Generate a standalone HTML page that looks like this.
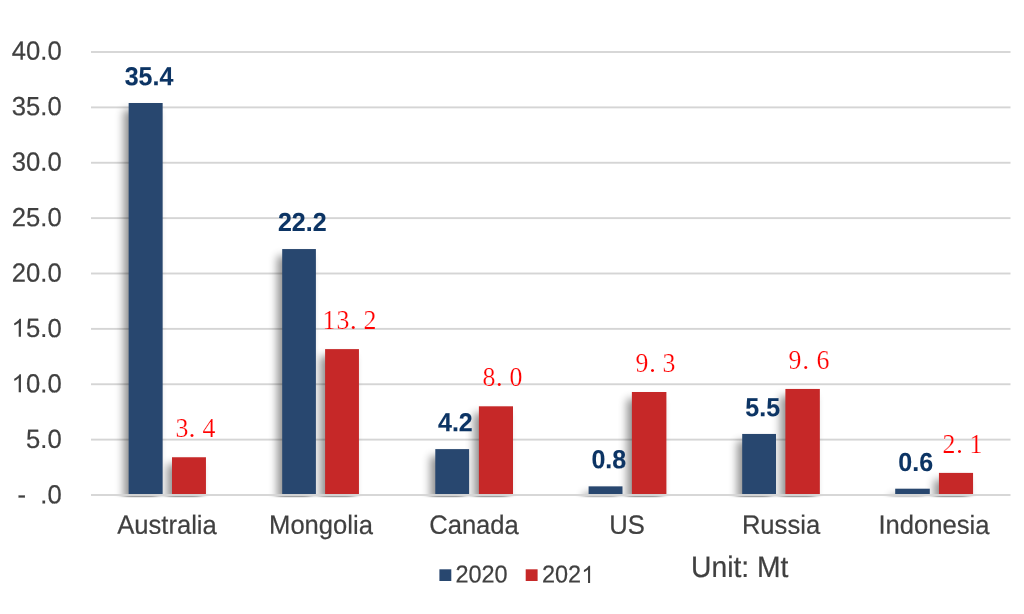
<!DOCTYPE html>
<html><head><meta charset="utf-8"><title>chart</title>
<style>
html,body{margin:0;padding:0;background:#fff;}
body{width:1024px;height:614px;position:relative;overflow:hidden;will-change:transform;font-family:"Liberation Sans",sans-serif;color:#404040;}
svg{position:absolute;left:0;top:0;}
.yl{position:absolute;left:0;width:61.7px;text-align:right;font-size:25.6px;line-height:30px;white-space:pre;transform-origin:100% 23.87px;-webkit-text-stroke:0.2px #404040;}
.cl{position:absolute;top:509px;font-size:25.6px;line-height:30px;text-align:center;white-space:nowrap;transform:translate(-50%,0.85px) scale(1,1.03) rotate(0.04deg);transform-origin:50% 23.87px;-webkit-text-stroke:0.2px #404040;}
.v0{position:absolute;font-weight:bold;font-size:25.3px;line-height:30px;color:#0c3464;-webkit-text-stroke:0.1px #0c3464;white-space:nowrap;transform-origin:0 23.77px;}
.v1{position:absolute;font-family:"Liberation Serif",serif;font-size:27.2px;line-height:30px;color:#ff0000;white-space:nowrap;}
.v1 i{font-style:normal;display:inline-block;width:13.85px;text-align:center;transform:scaleX(0.95);-webkit-text-stroke:0.22px #fff;}
.v1 i.d{text-align:left;transform:none;text-indent:0.4px;font-size:26px;-webkit-text-stroke:0;}
.lg{position:absolute;font-size:23.45px;line-height:30px;white-space:nowrap;top:559px;transform:translateY(0.55px) scale(1,1.045) rotate(0.06deg);transform-origin:0 23px;-webkit-text-stroke:0.2px #404040;}
.t1{color:transparent;-webkit-text-stroke:0 transparent;}
.one{position:absolute;top:0;width:20px;height:30px;fill:#404040;overflow:visible;}
.unit{position:absolute;left:691px;top:550px;font-size:28.3px;line-height:34px;white-space:nowrap;transform:translateY(0px) scale(1,1.045) rotate(0.05deg);transform-origin:0 27px;-webkit-text-stroke:0.2px #404040;}
</style></head><body>

<svg width="1024" height="614" viewBox="0 0 1024 614">
<defs><filter id="sh" x="0" y="0" width="1024" height="614" filterUnits="userSpaceOnUse"><feGaussianBlur in="SourceAlpha" stdDeviation="4.5"/><feOffset dx="-4.6" dy="7"/><feComponentTransfer><feFuncA type="linear" slope="0.43"/></feComponentTransfer></filter>
<clipPath id="cp"><rect x="60" y="0" width="964" height="497.3"/></clipPath></defs>
<rect x="91.0" y="438.675" width="919.5" height="1.9" fill="#d5d5d5"/>
<rect x="91.0" y="383.300" width="919.5" height="1.9" fill="#d5d5d5"/>
<rect x="91.0" y="327.925" width="919.5" height="1.9" fill="#d5d5d5"/>
<rect x="91.0" y="272.550" width="919.5" height="1.9" fill="#d5d5d5"/>
<rect x="91.0" y="217.175" width="919.5" height="1.9" fill="#d5d5d5"/>
<rect x="91.0" y="161.800" width="919.5" height="1.9" fill="#d5d5d5"/>
<rect x="91.0" y="106.425" width="919.5" height="1.9" fill="#d5d5d5"/>
<rect x="91.0" y="51.050" width="919.5" height="1.9" fill="#d5d5d5"/>
<g clip-path="url(#cp)">
<rect x="128.65" y="103.00" width="34.00" height="391.50" fill="#000" filter="url(#sh)"/>
<rect x="172.00" y="457.25" width="33.95" height="37.25" fill="#000" filter="url(#sh)"/>
<rect x="282.20" y="249.05" width="33.70" height="245.45" fill="#000" filter="url(#sh)"/>
<rect x="325.10" y="349.10" width="33.85" height="145.40" fill="#000" filter="url(#sh)"/>
<rect x="435.30" y="449.10" width="33.80" height="45.40" fill="#000" filter="url(#sh)"/>
<rect x="478.90" y="406.30" width="34.10" height="88.20" fill="#000" filter="url(#sh)"/>
<rect x="588.60" y="486.35" width="33.90" height="8.15" fill="#000" filter="url(#sh)"/>
<rect x="631.90" y="392.00" width="34.50" height="102.50" fill="#000" filter="url(#sh)"/>
<rect x="742.20" y="433.95" width="33.80" height="60.55" fill="#000" filter="url(#sh)"/>
<rect x="785.40" y="388.95" width="34.45" height="105.55" fill="#000" filter="url(#sh)"/>
<rect x="895.20" y="488.70" width="34.60" height="5.80" fill="#000" filter="url(#sh)"/>
<rect x="938.95" y="472.90" width="34.10" height="21.60" fill="#000" filter="url(#sh)"/>
</g>
<rect x="128.65" y="103.00" width="34.00" height="391.00" fill="#28476f"/>
<rect x="172.00" y="457.25" width="33.95" height="36.75" fill="#c62828"/>
<rect x="282.20" y="249.05" width="33.70" height="244.95" fill="#28476f"/>
<rect x="325.10" y="349.10" width="33.85" height="144.90" fill="#c62828"/>
<rect x="435.30" y="449.10" width="33.80" height="44.90" fill="#28476f"/>
<rect x="478.90" y="406.30" width="34.10" height="87.70" fill="#c62828"/>
<rect x="588.60" y="486.35" width="33.90" height="7.65" fill="#28476f"/>
<rect x="631.90" y="392.00" width="34.50" height="102.00" fill="#c62828"/>
<rect x="742.20" y="433.95" width="33.80" height="60.05" fill="#28476f"/>
<rect x="785.40" y="388.95" width="34.45" height="105.05" fill="#c62828"/>
<rect x="895.20" y="488.70" width="34.60" height="5.30" fill="#28476f"/>
<rect x="938.95" y="472.90" width="34.10" height="21.10" fill="#c62828"/>
<rect x="91.0" y="494.050" width="919.5" height="1.9" fill="#d5d5d5"/>
<rect x="439.4" y="569.3" width="11.9" height="11.7" fill="#28476f"/>
<rect x="525.7" y="569.3" width="11.9" height="11.7" fill="#c62828"/>
</svg>
<div class="yl" style="top:479px;transform:translateY(0.53px) scale(1,1.03) rotate(0.06deg)">-  .0</div>
<div class="yl" style="top:424px;transform:translateY(0.07px) scale(1,1.03) rotate(0.06deg)">5.0</div>
<div class="yl" style="top:368px;transform:translateY(0.60px) scale(1,1.03) rotate(0.06deg)"><span class="t1">1</span><svg class="one" style="left:9px" viewBox="0 0 20 30"><path transform="translate(2.41 23.67) scale(0.012500 0.011938)" d="M763 0H583V-1147Q518 -1085 412.5 -1023T223 -930V-1104Q374 -1175 487 -1276T647 -1469H763Z"/></svg>0.0</div>
<div class="yl" style="top:313px;transform:translateY(0.14px) scale(1,1.03) rotate(0.06deg)"><span class="t1">1</span><svg class="one" style="left:9px" viewBox="0 0 20 30"><path transform="translate(2.41 23.67) scale(0.012500 0.011938)" d="M763 0H583V-1147Q518 -1085 412.5 -1023T223 -930V-1104Q374 -1175 487 -1276T647 -1469H763Z"/></svg>5.0</div>
<div class="yl" style="top:257px;transform:translateY(0.68px) scale(1,1.03) rotate(0.06deg)">20.0</div>
<div class="yl" style="top:202px;transform:translateY(0.22px) scale(1,1.03) rotate(0.06deg)">25.0</div>
<div class="yl" style="top:146px;transform:translateY(0.75px) scale(1,1.03) rotate(0.06deg)">30.0</div>
<div class="yl" style="top:91px;transform:translateY(0.29px) scale(1,1.03) rotate(0.06deg)">35.0</div>
<div class="yl" style="top:35px;transform:translateY(0.83px) scale(1,1.03) rotate(0.06deg)">40.0</div>
<div class="cl" style="left:166.90px">Australia</div>
<div class="cl" style="left:320.75px">Mongolia</div>
<div class="cl" style="left:474.10px">Canada</div>
<div class="cl" style="left:627.10px">US</div>
<div class="cl" style="left:781.00px">Russia</div>
<div class="cl" style="left:934.40px">Indonesia</div>
<div class="v0" style="left:124px;top:61px;transform:translate(0.70px,0.23px) scale(0.988,1.03) rotate(0.05deg)">35.4</div>
<div class="v0" style="left:277px;top:206px;transform:translate(0.90px,0.93px) scale(0.988,1.03) rotate(0.05deg)">22.2</div>
<div class="v0" style="left:437px;top:407px;transform:translate(1.00px,0.23px) scale(0.988,1.03) rotate(0.05deg)">4.2</div>
<div class="v0" style="left:591px;top:444px;transform:translate(0.40px,0.33px) scale(0.988,1.03) rotate(0.05deg)">0.8</div>
<div class="v0" style="left:745px;top:392px;transform:translate(0.30px,0.18px) scale(0.988,1.03) rotate(0.05deg)">5.5</div>
<div class="v0" style="left:898px;top:446px;transform:translate(0.30px,0.98px) scale(0.988,1.03) rotate(0.05deg)">0.6</div>
<div class="v1" style="left:174.57px;top:413.20px"><i>3</i><i class="d">.</i><i>4</i></div>
<div class="v1" style="left:322.38px;top:305.10px"><i>1</i><i>3</i><i class="d" style="margin-left:-0.5px;margin-right:0.5px">.</i><i style="margin-left:-1.1px;margin-right:1.1px">2</i></div>
<div class="v1" style="left:481.68px;top:362.10px"><i>8</i><i class="d">.</i><i>0</i></div>
<div class="v1" style="left:635.03px;top:347.80px"><i>9</i><i class="d">.</i><i style="margin-left:-0.6px;margin-right:0.6px">3</i></div>
<div class="v1" style="left:788.23px;top:344.90px"><i>9</i><i class="d">.</i><i>6</i></div>
<div class="v1" style="left:942.03px;top:428.80px"><i>2</i><i class="d">.</i><i style="margin-left:-0.5px;margin-right:0.5px">1</i></div>
<div class="lg" style="left:455px;transform:translate(0.5px,0.55px) scale(1,1.045) rotate(0.06deg)">2020</div>
<div class="lg" style="left:541px;transform:translate(1.0px,0.55px) scale(1,1.045) rotate(0.06deg)">202<span class="t1">1</span><svg class="one" style="left:37px" viewBox="0 0 20 30"><path transform="translate(2.36 23.28) scale(0.011450 0.011164)" d="M763 0H583V-1147Q518 -1085 412.5 -1023T223 -930V-1104Q374 -1175 487 -1276T647 -1469H763Z"/></svg></div>
<div class="unit">Unit: Mt</div>
</body></html>
